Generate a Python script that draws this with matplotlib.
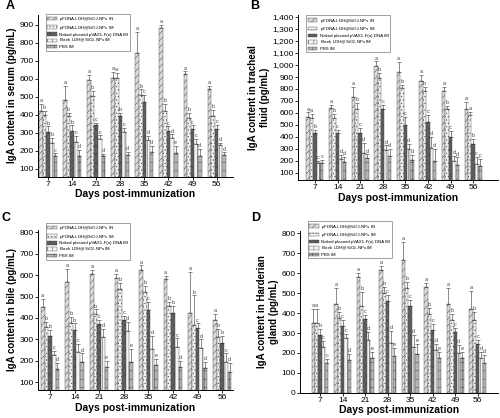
import numpy as np
import matplotlib
matplotlib.use("Agg")
import matplotlib.pyplot as plt
from matplotlib.ticker import FuncFormatter

plt.rcParams['font.family'] = ['Liberation Sans', 'DejaVu Sans']
plt.rcParams['hatch.linewidth'] = 0.35

days = ["7", "14", "21", "28", "35", "42", "49", "56"]
series = ["pFDNA-LDH@SiO$_2$-NPs IN", "pFDNA-LDH@SiO$_2$-NPs IM",
          "Naked plasmid pVAX1-F(o) DNA IM", "Blank LDH@SiO$_2$-NPs IM", "PBS IM"]

# rows = days, cols = series
serum = [[420, 400, 305, 245, 170], [480, 390, 310, 250, 170], [590, 505, 340, 265, 170],
         [605, 605, 395, 305, 175], [740, 510, 470, 260, 190], [880, 420, 310, 270, 185],
         [625, 380, 320, 235, 170], [545, 395, 320, 230, 175]]
serum_err = [[40, 20, 30, 25, 15], [80, 20, 30, 30, 35], [30, 25, 15, 20, 10], [30, 25, 15, 20, 20],
             [120, 30, 40, 20, 35], [20, 40, 25, 20, 40], [15, 30, 20, 30, 40], [15, 30, 25, 15, 15]]
serum_let = ["abbbc", "abbcd", "abccd", "aabcd", "abcdd", "abcde", "abccd", "abcdd"]

trach = [[565, 555, 430, 180, 185], [645, 560, 430, 220, 195], [730, 635, 435, 270, 225],
         [990, 895, 630, 290, 240], [945, 805, 500, 300, 210], [865, 780, 525, 310, 200],
         [785, 630, 400, 200, 170], [635, 580, 345, 175, 160]]
trach_err = [[40, 40, 30, 20, 25], [20, 30, 30, 30, 40], [90, 50, 40, 80, 30], [40, 40, 40, 40, 60],
             [80, 30, 70, 40, 40], [50, 40, 60, 90, 100], [30, 30, 50, 40, 60], [60, 30, 40, 60, 60]]
trach_let = ["aabcc", "abcdd", "abcdd", "abcdd", "abcdd", "abcdd", "abcdd", "aabcc"]

bile = [[450, 360, 315, 225, 160], [570, 375, 345, 240, 195], [605, 420, 370, 310, 170],
        [585, 535, 390, 340, 195], [625, 520, 435, 255, 180], [580, 455, 425, 265, 170],
        [425, 365, 355, 260, 165], [390, 310, 285, 195, 150]]
bile_err = [[40, 20, 30, 20, 30], [60, 30, 30, 40, 40], [20, 20, 20, 40, 30], [20, 30, 20, 40, 60],
            [20, 30, 40, 60, 30], [15, 20, 30, 40, 30], [190, 140, 20, 40, 30], [30, 40, 30, 40, 40]]
bile_let = ["abbcd", "abbcd", "abcde", "abcde", "abcde", "abbcd", "abcdd", "abbcd"]

hard = [[350, 350, 290, 230, 150], [445, 375, 335, 275, 165], [580, 435, 370, 265, 175],
        [615, 500, 460, 250, 185], [665, 525, 435, 230, 195], [530, 395, 315, 215, 175],
        [445, 365, 305, 200, 175], [420, 365, 245, 175, 150]]
hard_err = [[70, 70, 30, 30, 20], [80, 30, 30, 20, 30], [20, 70, 20, 40, 30], [20, 30, 30, 60, 40],
            [90, 30, 30, 60, 50], [20, 30, 30, 30, 30], [80, 30, 20, 40, 30], [90, 40, 20, 30, 40]]
hard_let = ["aabcc", "abccd", "abcde", "abcde", "abcde", "abcde", "abcde", "abcdd"]

colors = ['#dcdcdc', '#f2f2f2', '#606060', '#f4f4f4', '#b4b4b4']
hatches = ['/////', '.....', 'xxxx', '|||', '++']

fig = plt.figure(figsize=(5.0, 4.18), dpi=100)


def panel(rect, vals, errs, lets, ylabel, ylim, yticks, xlim, letter, lpos, leg_y, comma=False):
    ax = fig.add_axes(rect)
    vals = np.array(vals)
    errs = np.array(errs)
    x = np.arange(len(days))
    w = 0.15
    for i in range(len(series)):
        xi = x + (i - 2) * w
        ax.bar(xi, vals[:, i], w, color=colors[i], hatch=hatches[i], edgecolor='#4a4a4a',
               linewidth=0.3, label=series[i], zorder=2)
        ax.errorbar(xi, vals[:, i], yerr=[np.zeros(len(x)), errs[:, i]], fmt='none',
                    ecolor='#333333', elinewidth=0.4, capsize=1.2, capthick=0.4, zorder=3)
        for j in range(len(x)):
            ax.text(xi[j], vals[j, i] + errs[j, i] + (ylim[1] - ylim[0]) * 0.005, lets[j][i],
                    ha='center', va='bottom', fontsize=4, color='#444444')
    ax.set_xlim(*xlim)
    ax.set_ylim(*ylim)
    ax.set_xticks(x)
    ax.set_xticklabels(days, fontsize=6)
    ax.set_yticks(yticks)
    if comma:
        ax.yaxis.set_major_formatter(FuncFormatter(lambda v, p: '{:,.0f}'.format(v)))
    ax.tick_params(axis='y', labelsize=6, length=2, width=0.6, pad=1)
    ax.tick_params(axis='x', length=2, width=0.6, pad=1)
    ax.spines['top'].set_visible(False)
    ax.spines['right'].set_visible(False)
    ax.spines['left'].set_linewidth(0.7)
    ax.spines['bottom'].set_linewidth(0.7)
    ax.set_xlabel("Days post-immunization", fontsize=7.5, fontweight='bold', labelpad=1)
    ax.set_ylabel(ylabel, fontsize=7, fontweight='bold', labelpad=2, linespacing=1.2)
    leg = ax.legend(loc='upper left', bbox_to_anchor=(0.03, leg_y), fontsize=3.2, frameon=True,
                    fancybox=False, edgecolor='#333333', handlelength=2.2, handleheight=0.8,
                    labelspacing=0.15, borderpad=0.3, handletextpad=0.5)
    leg.get_frame().set_linewidth(0.4)
    leg.set_zorder(5)
    fig.text(lpos[0], lpos[1], letter, fontsize=9, fontweight='bold', ha='center', va='center')
    return ax


panel([0.076, 0.577, 0.39, 0.388], serum, serum_err, serum_let,
      "IgA content in serum (pg/mL)", (55, 955), range(100, 901, 100), (-0.42, 7.68), "A",
      (0.02, 0.985), 1.02)
panel([0.596, 0.569, 0.40, 0.396], trach, trach_err, trach_let,
      "IgA content in tracheal\nfluid (pg/mL)", (40, 1420), range(100, 1401, 100), (-0.75, 8.1), "B",
      (0.51, 0.985), 1.01, comma=True)
panel([0.076, 0.067, 0.39, 0.383], bile, bile_err, bile_let,
      "IgA content in bile (pg/mL)", (64, 811), range(100, 801, 100), (-0.49, 7.44), "C",
      (0.012, 0.478), 1.06)
panel([0.60, 0.06, 0.396, 0.387], hard, hard_err, hard_let,
      "IgA content in Harderian\ngland (pg/mL)", (0, 810), range(0, 801, 100), (-0.89, 7.9), "D",
      (0.512, 0.478), 1.075)

plt.savefig("out.png", dpi=100)
